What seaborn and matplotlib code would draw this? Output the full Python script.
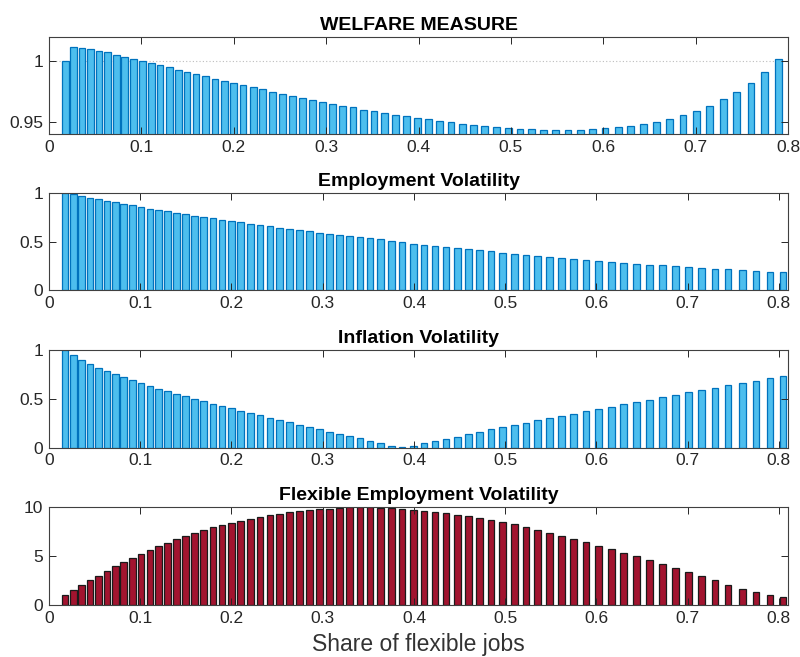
import matplotlib
matplotlib.use("Agg")
import matplotlib.pyplot as plt
import seaborn as sns
import pandas as pd
from matplotlib.ticker import FuncFormatter

# ---------------- data ----------------
share = [0.0175, 0.0266, 0.0358, 0.0449, 0.0540, 0.0636, 0.0727, 0.0820, 0.0915, 0.1010,
         0.1107, 0.1202, 0.1301, 0.1399, 0.1494, 0.1592, 0.1695, 0.1797, 0.1896, 0.1998,
         0.2101, 0.2210, 0.2312, 0.2422, 0.2524, 0.2633, 0.2743, 0.2853, 0.2962, 0.3072,
         0.3181, 0.3291, 0.3408, 0.3518, 0.3635, 0.3751, 0.3868, 0.3992, 0.4110, 0.4230,
         0.4351, 0.4475, 0.4595, 0.4716, 0.4844, 0.4972, 0.5099, 0.5227, 0.5356, 0.5483,
         0.5619, 0.5750, 0.5885, 0.6020, 0.6162, 0.6298, 0.6436, 0.6579, 0.6721, 0.6864,
         0.7010, 0.7153, 0.7299, 0.7444, 0.7598, 0.7748, 0.7901, 0.8047]

welfare = [1.0000, 1.0114, 1.0109, 1.0098, 1.0084, 1.0071, 1.0054, 1.0035, 1.0019, 1.0003,
           0.9986, 0.9967, 0.9948, 0.9929, 0.9913, 0.9894, 0.9875, 0.9856, 0.9840, 0.9821,
           0.9804, 0.9785, 0.9769, 0.9750, 0.9734, 0.9717, 0.9701, 0.9685, 0.9668, 0.9652,
           0.9633, 0.9620, 0.9603, 0.9587, 0.9573, 0.9560, 0.9546, 0.9535, 0.9524, 0.9511,
           0.9497, 0.9486, 0.9476, 0.9467, 0.9459, 0.9454, 0.9446, 0.9443, 0.9438, 0.9435,
           0.9435, 0.9438, 0.9443, 0.9448, 0.9459, 0.9470, 0.9484, 0.9503, 0.9527, 0.9557,
           0.9592, 0.9633, 0.9688, 0.9747, 0.9818, 0.9908, 1.0014, 1.0160]

employment = [1.000, 0.990, 0.972, 0.955, 0.938, 0.921, 0.907, 0.893, 0.876, 0.859,
              0.841, 0.828, 0.814, 0.800, 0.783, 0.769, 0.752, 0.741, 0.728, 0.714,
              0.700, 0.686, 0.672, 0.659, 0.645, 0.631, 0.619, 0.607, 0.593, 0.579,
              0.569, 0.559, 0.548, 0.538, 0.528, 0.507, 0.493, 0.479, 0.466, 0.455,
              0.441, 0.431, 0.421, 0.410, 0.400, 0.386, 0.376, 0.366, 0.355, 0.345,
              0.334, 0.324, 0.314, 0.303, 0.293, 0.283, 0.272, 0.262, 0.255, 0.245,
              0.238, 0.228, 0.221, 0.214, 0.203, 0.197, 0.190, 0.183]

inflation = [1.000, 0.949, 0.898, 0.860, 0.819, 0.785, 0.754, 0.720, 0.689, 0.662,
             0.631, 0.604, 0.580, 0.553, 0.526, 0.502, 0.478, 0.451, 0.427, 0.403,
             0.379, 0.352, 0.331, 0.307, 0.283, 0.259, 0.235, 0.212, 0.188, 0.164,
             0.140, 0.119, 0.096, 0.072, 0.048, 0.022, 0.012, 0.022, 0.044, 0.065,
             0.089, 0.113, 0.137, 0.157, 0.188, 0.208, 0.229, 0.249, 0.283, 0.300,
             0.324, 0.348, 0.379, 0.396, 0.420, 0.444, 0.468, 0.491, 0.515, 0.543,
             0.567, 0.590, 0.614, 0.638, 0.666, 0.686, 0.713, 0.737]

flexible = [1.00, 1.49, 2.00, 2.51, 2.98, 3.46, 3.93, 4.37, 4.81, 5.22,
            5.59, 5.97, 6.34, 6.68, 7.02, 7.32, 7.63, 7.90, 8.17, 8.37,
            8.58, 8.78, 8.98, 9.15, 9.29, 9.42, 9.56, 9.63, 9.73, 9.80,
            9.85, 9.92, 10.00, 9.97, 9.90, 9.82, 9.76, 9.66, 9.56, 9.46,
            9.32, 9.19, 9.02, 8.81, 8.61, 8.41, 8.20, 7.90, 7.63, 7.32,
            7.05, 6.71, 6.37, 6.05, 5.69, 5.32, 4.95, 4.54, 4.14, 3.73,
            3.32, 2.92, 2.51, 2.07, 1.66, 1.32, 1.02, 0.85]

titles = ["WELFARE MEASURE", "Employment Volatility", "Inflation Volatility",
          "Flexible Employment Volatility"]
xticks = [0, 0.1, 0.2, 0.3, 0.4, 0.5, 0.6, 0.7, 0.8]
yticks = [[0.95, 1.0], [0, 0.5, 1], [0, 0.5, 1], [0, 5, 10]]
ylims = [(0.94, 1.02), (0, 1), (0, 1), (0, 10)]
xlims = [(0, 0.8), (0, 0.81), (0, 0.81), (0, 0.81)]
xlabel = "Share of flexible jobs"

# ---------------- style ----------------
sns.set_theme(style="white")
plt.rcParams["font.family"] = ["Liberation Sans", "DejaVu Sans"]

BLUE_FACE = "#4DBEEE"
BLUE_EDGE = "#0072BD"
RED_FACE = "#A2142F"
RED_EDGE = "#1a1a1a"
AX_COL = "#262626"

fig = plt.figure(figsize=(8, 6.57), dpi=100)
W, H = 800.0, 657.0
boxes = [(36.7, 134.3), (193.3, 290.0), (350.0, 447.7), (506.7, 605.0)]
left_px, right_px = 49.0, 788.0

series = [welfare, employment, inflation, flexible]
faces = [BLUE_FACE, BLUE_FACE, BLUE_FACE, RED_FACE]
edges = [BLUE_EDGE, BLUE_EDGE, BLUE_EDGE, RED_EDGE]

fmt = FuncFormatter(lambda v, p: f"{v:g}")

for i, (top, bot) in enumerate(boxes):
    ax = fig.add_axes([left_px / W, 1 - bot / H, (right_px - left_px) / W, (bot - top) / H])
    df = pd.DataFrame({"share": share, "value": series[i]})
    if i == 0:
        ax.axhline(1.0, color="#bdbdbd", lw=0.8, ls=(0, (1, 2)), zorder=0.5)
    sns.barplot(data=df, x="share", y="value", native_scale=True, orient="x",
                color=faces[i], edgecolor=edges[i], linewidth=0.9, saturation=1,
                width=0.8, errorbar=None, ax=ax, zorder=2)
    ax.set_xlim(*xlims[i])
    ax.set_ylim(*ylims[i])
    ax.set_xticks(xticks)
    ax.set_yticks(yticks[i])
    ax.xaxis.set_major_formatter(fmt)
    ax.yaxis.set_major_formatter(fmt)
    ax.set_xlabel("")
    ax.set_ylabel("")
    ax.set_title(titles[i], fontsize=14, fontweight="bold", color="black", pad=5)
    ax.tick_params(axis="both", which="major", direction="in", length=5, width=0.7,
                   top=True, right=True, bottom=True, left=True,
                   labeltop=False, labelright=False,
                   color=AX_COL, labelcolor=AX_COL, labelsize=12.5, pad=4)
    for s in ax.spines.values():
        s.set_visible(True)
        s.set_color("#404040")
        s.set_linewidth(0.8)
        s.set_zorder(5)
    ax.set_axisbelow(False)
    if i == 3:
        ax.set_xlabel(xlabel, fontsize=16.5, color="#333333", labelpad=5)

fig.savefig("out.png", dpi=100)
